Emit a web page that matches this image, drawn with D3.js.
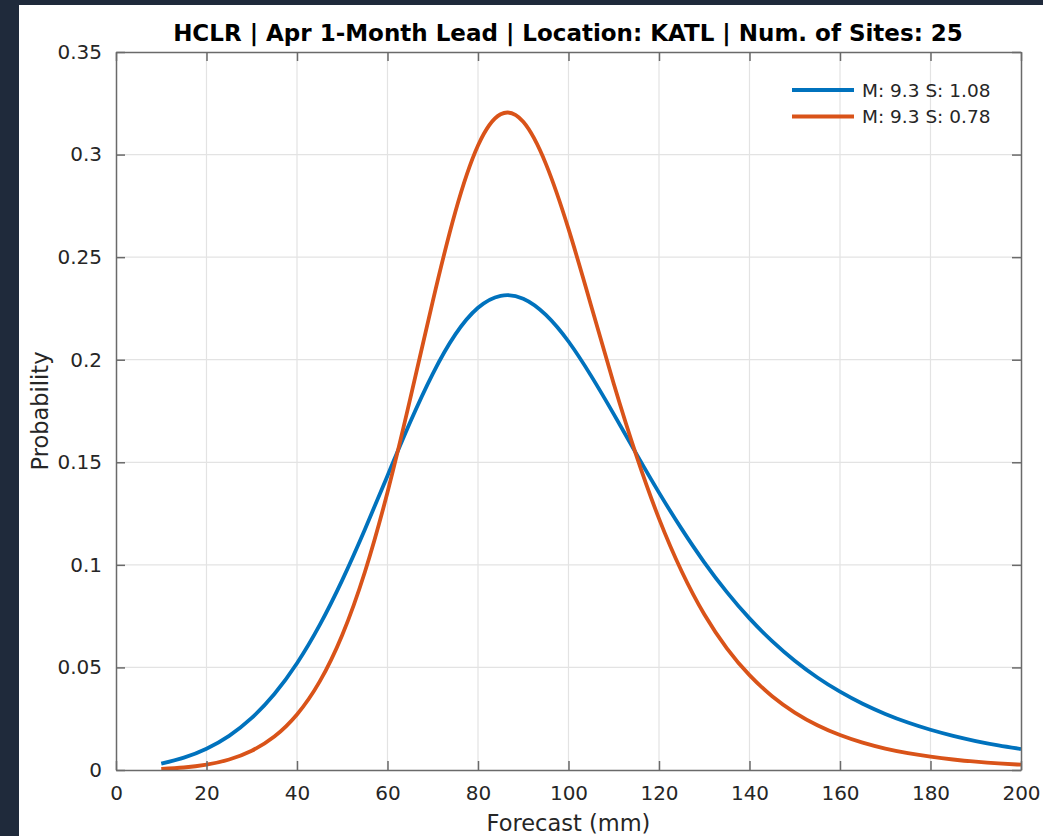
<!DOCTYPE html>
<html>
<head>
<meta charset="utf-8">
<script src="https://cdn.jsdelivr.net/npm/d3@7"></script>
<style>
  html, body { margin: 0; padding: 0; background: #1f2a3b; }
  svg { display: block; }
</style>
</head>
<body>
<svg id="chart" width="1043" height="836"></svg>
<script>
// ---- data ----
const titleText = "HCLR | Apr 1-Month Lead | Location: KATL | Num. of Sites: 25";
const xLabel = "Forecast (mm)";
const yLabel = "Probability";
const xTicks = [0, 20, 40, 60, 80, 100, 120, 140, 160, 180, 200];
const yTicks = [0, 0.05, 0.1, 0.15, 0.2, 0.25, 0.3, 0.35];
const yTickLabels = ["0", "0.05", "0.1", "0.15", "0.2", "0.25", "0.3", "0.35"];
const forecastMM = [10, 15, 20, 25, 30, 35, 40, 45, 50, 55, 60, 65, 70, 75, 80, 85, 90, 95, 100,
  105, 110, 115, 120, 125, 130, 135, 140, 145, 150, 155, 160, 165, 170, 175, 180, 185, 190, 195, 200];
const seriesNames = ["M: 9.3 S: 1.08", "M: 9.3 S: 0.78"];
const probBlue = [0.00313, 0.00601, 0.01036, 0.01665, 0.02538, 0.03705, 0.05206, 0.07062, 0.09258,
  0.11726, 0.14348, 0.16948, 0.19312, 0.21233, 0.22531, 0.23116, 0.22976, 0.22186, 0.20888,
  0.19212, 0.17348, 0.15411, 0.13522, 0.11753, 0.10126, 0.08672, 0.07390, 0.06282, 0.05326,
  0.04510, 0.03816, 0.03228, 0.02732, 0.02313, 0.01960, 0.01663, 0.01412, 0.01201, 0.01023];
const probOrange = [0.00049, 0.00122, 0.00262, 0.00513, 0.00940, 0.01631, 0.02706, 0.04306, 0.06582,
  0.09654, 0.13540, 0.18076, 0.22847, 0.27213, 0.30441, 0.31966, 0.31597, 0.29548, 0.26375,
  0.22634, 0.18827, 0.15324, 0.12255, 0.09690, 0.07594, 0.05934, 0.04622, 0.03597, 0.02800,
  0.02182, 0.01704, 0.01333, 0.01045, 0.00822, 0.00648, 0.00512, 0.00406, 0.00323, 0.00257];
const colors = ["#0072bd", "#d95319"];

// ---- layout ----
const W = 1043, H = 836;
const plot = { left: 116, top: 52, right: 1021, bottom: 770 };
const svg = d3.select("#chart");

svg.append("rect").attr("x", 0).attr("y", 0).attr("width", W).attr("height", H).attr("fill", "#1f2a3b");
svg.append("rect").attr("x", 19).attr("y", 5).attr("width", W - 19).attr("height", H - 5).attr("fill", "#ffffff");

const x = d3.scaleLinear().domain([0, 200]).range([plot.left, plot.right]);
const y = d3.scaleLinear().domain([0, 0.35]).range([plot.bottom, plot.top]);

const font = "'DejaVu Sans', sans-serif";
const g = svg.append("g");

// grid
g.append("g").selectAll("line").data(xTicks.slice(1, -1)).join("line")
  .attr("x1", d => x(d)).attr("x2", d => x(d))
  .attr("y1", plot.top).attr("y2", plot.bottom)
  .attr("stroke", "#e3e3e3").attr("stroke-width", 1.2);
g.append("g").selectAll("line").data(yTicks.slice(1, -1)).join("line")
  .attr("y1", d => y(d)).attr("y2", d => y(d))
  .attr("x1", plot.left).attr("x2", plot.right)
  .attr("stroke", "#e3e3e3").attr("stroke-width", 1.2);

// curves
const line = d3.line().x(d => x(d[0])).y(d => y(d[1])).curve(d3.curveNatural);
const series = [probBlue, probOrange];
series.forEach((vals, i) => {
  g.append("path")
    .datum(forecastMM.map((f, j) => [f, vals[j]]))
    .attr("fill", "none")
    .attr("stroke", colors[i])
    .attr("stroke-width", 3.8)
    .attr("stroke-linejoin", "round")
    .attr("d", line);
});

// axes (box with inward ticks)
const axisColor = "#6a6a6a";
const tickLen = 9;
const axB = g.append("g").attr("transform", `translate(0,${plot.bottom})`)
  .call(d3.axisBottom(x).tickValues(xTicks).tickSizeInner(-tickLen).tickSizeOuter(0).tickPadding(16));
const axT = g.append("g").attr("transform", `translate(0,${plot.top})`)
  .call(d3.axisTop(x).tickValues(xTicks).tickSizeInner(-tickLen).tickSizeOuter(0).tickFormat(""));
const axL = g.append("g").attr("transform", `translate(${plot.left},0)`)
  .call(d3.axisLeft(y).tickValues(yTicks).tickSizeInner(-tickLen).tickSizeOuter(0).tickPadding(14)
    .tickFormat((d, i) => yTickLabels[i]));
const axR = g.append("g").attr("transform", `translate(${plot.right},0)`)
  .call(d3.axisRight(y).tickValues(yTicks).tickSizeInner(-tickLen).tickSizeOuter(0).tickFormat(""));
[axB, axT, axL, axR].forEach(a => {
  a.select(".domain").attr("stroke", axisColor).attr("stroke-width", 1.5);
  a.selectAll(".tick line").attr("stroke", axisColor).attr("stroke-width", 1.5);
  a.selectAll("text").attr("fill", "#262626").style("font-family", font).style("font-size", "20px");
});
axB.selectAll("text").attr("dy", "0.71em");

// title
svg.append("text")
  .attr("x", 568).attr("y", 41)
  .attr("text-anchor", "middle")
  .style("font-family", font).style("font-size", "23px").style("font-weight", "bold")
  .attr("fill", "#000")
  .text(titleText);

// axis labels
svg.append("text")
  .attr("x", (plot.left + plot.right) / 2).attr("y", 831)
  .attr("text-anchor", "middle")
  .style("font-family", font).style("font-size", "22.5px")
  .attr("fill", "#262626")
  .text(xLabel);
svg.append("text")
  .attr("transform", `translate(48,${(plot.top + plot.bottom) / 2}) rotate(-90)`)
  .attr("text-anchor", "middle")
  .style("font-family", font).style("font-size", "22.5px")
  .attr("fill", "#262626")
  .text(yLabel);

// legend
const legend = svg.append("g");
seriesNames.forEach((name, i) => {
  const ly = 90 + i * 26.5;
  legend.append("line")
    .attr("x1", 792).attr("x2", 854).attr("y1", ly).attr("y2", ly)
    .attr("stroke", colors[i]).attr("stroke-width", 3.8);
  legend.append("text")
    .attr("x", 862).attr("y", ly).attr("dy", "0.36em")
    .style("font-family", font).style("font-size", "18.5px")
    .attr("fill", "#262626")
    .text(name);
});
</script>
</body>
</html>
